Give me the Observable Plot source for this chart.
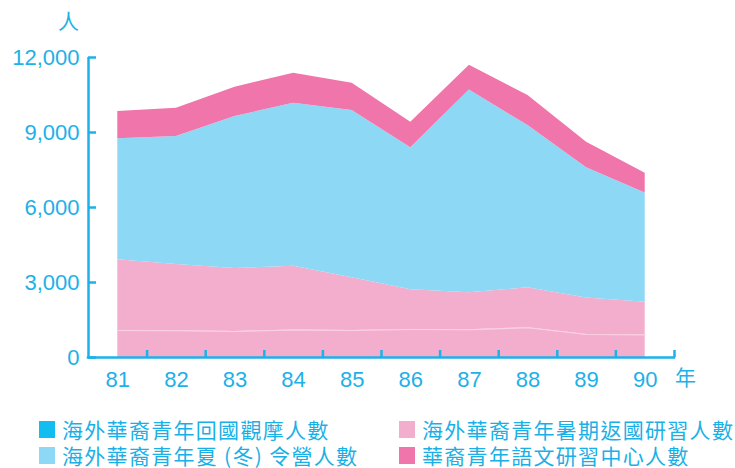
<!DOCTYPE html>
<html><head><meta charset="utf-8">
<script src="https://cdn.jsdelivr.net/npm/d3@7"></script>
<script src="https://cdn.jsdelivr.net/npm/@observablehq/plot@0.6"></script>
<style>
body{margin:0;background:#fff;}
#wrap{position:relative;width:735px;height:468px;overflow:hidden;}
#chart{position:absolute;left:0;top:0;}
.item{position:absolute;display:flex;align-items:center;white-space:nowrap;font-family:"Noto Sans CJK TC","Noto Sans CJK SC",sans-serif;font-size:21px;letter-spacing:1.3px;color:#1ab0e6;line-height:21px;height:21px;}
.sw{width:16px;height:17px;margin-right:7px;flex:none;}
</style></head><body>
<div id="wrap"><div id="chart"></div></div>
<script>
// ---- data ----
const years = [81, 82, 83, 84, 85, 86, 87, 88, 89, 90];
const xLabels = ["81", "82", "83", "84", "85", "86", "87", "88", "89", "90"];
const seriesNames = ["海外華裔青年回國觀摩人數", "海外華裔青年暑期返國研習人數", "海外華裔青年夏 (冬) 令營人數", "華裔青年語文研習中心人數"];
const legendColors = ["#14bdef", "#f3aecd", "#8dd8f5", "#f075aa"];
const areaColors = ["#f3aecd", "#f3aecd", "#8dd8f5", "#f075aa"];
const observe  = [1080, 1070, 1040, 1100, 1080, 1120, 1110, 1190, 920, 900];
const summer   = [2830, 2650, 2520, 2550, 2110, 1590, 1480, 1600, 1460, 1310];
const camp     = [4840, 5120, 6080, 6520, 6690, 5680, 8110, 6490, 5210, 4370];
const language = [1090, 1130, 1170, 1200, 1090, 1020, 990, 1200, 1020, 790];
const yTicks = [0, 3000, 6000, 9000, 12000];

const seriesValues = [observe, summer, camp, language];
const data = [];
seriesValues.forEach((vals, si) => vals.forEach((v, i) => data.push({year: years[i], series: seriesNames[si], value: v})));
const firstLine = years.map((y, i) => ({year: y, value: observe[i]}));

const axisColor = "#1cb1e8";
const xDomain = [years[0] - 0.5, years[years.length - 1] + 0.5];
const yMax = yTicks[yTicks.length - 1];
const midTicks = years.map(y => y + 0.5);

const plot = Plot.plot({
  width: 735,
  height: 410,
  marginLeft: 88,
  marginRight: 61,
  marginTop: 57,
  marginBottom: 53,
  style: {fontFamily: "'Liberation Sans', Arial, sans-serif", background: "transparent"},
  x: {domain: xDomain, axis: null},
  y: {domain: [0, yMax], axis: null},
  color: {type: "identity"},
  marks: [
    Plot.areaY(data, {x: "year", y: "value", z: "series", fill: d => areaColors[seriesNames.indexOf(d.series)]}),
    Plot.lineY(firstLine, {x: "year", y: "value", stroke: "#fad3e3", strokeWidth: 1.2}),
    Plot.ruleX([xDomain[0]], {y1: 0, y2: yMax, stroke: axisColor, strokeWidth: 2.5}),
    Plot.ruleY([0], {x1: xDomain[0], x2: xDomain[1], stroke: axisColor, strokeWidth: 2.5, strokeLinecap: "square"}),
    Plot.axisY(yTicks, {tickSize: -8, fill: "none", stroke: axisColor, strokeWidth: 2.5, label: null}),
    Plot.axisY(yTicks, {tickSize: 0, tickPadding: 9, tickFormat: d3.format(","), fill: axisColor, fontSize: 22, label: null}),
    Plot.axisX(midTicks, {tickSize: -7, fill: "none", stroke: axisColor, strokeWidth: 2.5, label: null}),
    Plot.axisX(years, {tickSize: 0, tickPadding: 14, tickFormat: d => xLabels[years.indexOf(d)], fill: axisColor, fontSize: 22, label: null}),
    Plot.text(["人"], {frameAnchor: "top-left", textAnchor: "middle", lineAnchor: "middle", dx: -20, dy: -35, fontSize: 21, fill: axisColor, fontFamily: "Noto Sans CJK TC"}),
    Plot.text(["年"], {frameAnchor: "bottom-right", textAnchor: "middle", lineAnchor: "middle", dx: 11, dy: 21, fontSize: 21, fill: axisColor, fontFamily: "Noto Sans CJK TC"})
  ]
});
document.getElementById("chart").appendChild(plot);

// legend
const wrap = document.getElementById("wrap");
const legendPos = [[39, 419], [399, 419], [39, 445], [399, 445]];
[0, 1, 2, 3].forEach((si, k) => {
  const it = document.createElement("div");
  it.className = "item";
  it.style.left = legendPos[k][0] + "px";
  it.style.top = legendPos[k][1] + "px";
  const sw = document.createElement("div");
  sw.className = "sw";
  sw.style.background = legendColors[si];
  const tx = document.createElement("span");
  tx.textContent = seriesNames[si];
  it.appendChild(sw); it.appendChild(tx);
  wrap.appendChild(it);
});
</script>
</body></html>
